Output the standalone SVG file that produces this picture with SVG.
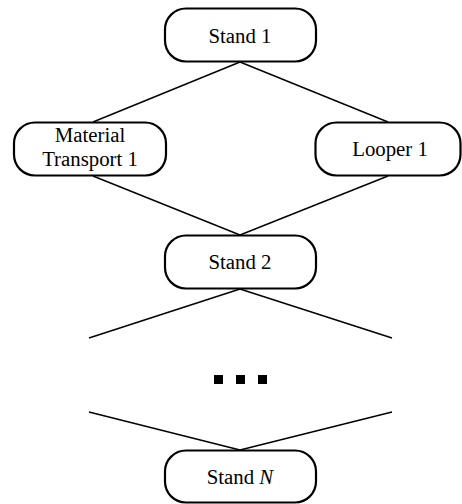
<svg xmlns="http://www.w3.org/2000/svg" width="462" height="504" viewBox="0 0 462 504">
<style>
.box{fill:#fff;stroke:#000;stroke-width:2.2}
.t{font-family:'Liberation Serif','DejaVu Serif',serif;font-size:20.8px;fill:#000;text-anchor:middle}
.ln{stroke:#000;stroke-width:1.4;fill:none}
</style>
<rect width="462" height="504" fill="#fff"/>
<g id="connectors">
<line class="ln" x1="240" y1="62" x2="93" y2="122"/>
<line class="ln" x1="240" y1="62" x2="388" y2="122"/>
<line class="ln" x1="93" y1="176" x2="240" y2="235"/>
<line class="ln" x1="388" y1="176" x2="240" y2="235"/>
<line class="ln" x1="240" y1="289" x2="89" y2="338"/>
<line class="ln" x1="240" y1="289" x2="392" y2="338"/>
<line class="ln" x1="89" y1="412" x2="240" y2="450"/>
<line class="ln" x1="392" y1="412" x2="240" y2="450"/>
</g>
<g id="stand1">
<rect class="box" x="165" y="8.5" width="151" height="53" rx="21"/>
<text class="t" x="240" y="42.5">Stand 1</text>
</g>
<g id="material-transport-1">
<rect class="box" x="14" y="122.5" width="152" height="53" rx="21"/>
<text class="t" x="90" y="142">Material</text>
<text class="t" x="90" y="166">Transport 1</text>
</g>
<g id="looper1">
<rect class="box" x="315.5" y="122.5" width="145" height="53" rx="21"/>
<text class="t" x="390" y="155.5">Looper 1</text>
</g>
<g id="stand2">
<rect class="box" x="165" y="235.5" width="151" height="53" rx="21"/>
<text class="t" x="240" y="269">Stand 2</text>
</g>
<g id="dots">
<rect x="214" y="375" width="9" height="9" fill="#000"/>
<rect x="236" y="375" width="9" height="9" fill="#000"/>
<rect x="258" y="375" width="9" height="9" fill="#000"/>
</g>
<g id="standN">
<rect class="box" x="165" y="450.5" width="151" height="52" rx="21"/>
<text class="t" x="240" y="484">Stand <tspan font-style="italic">N</tspan></text>
</g>
</svg>
